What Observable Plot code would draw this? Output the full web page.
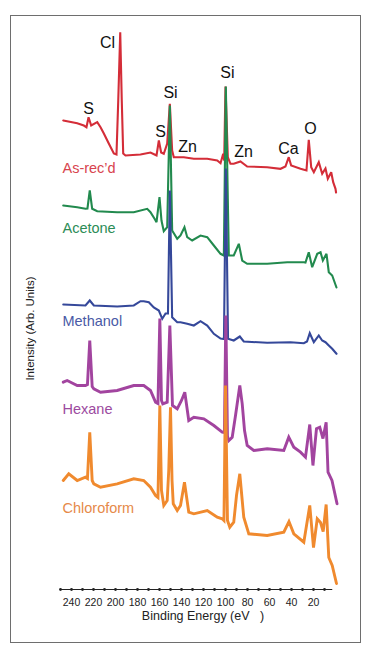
<!DOCTYPE html>
<html><head><meta charset="utf-8">
<script src="https://cdn.jsdelivr.net/npm/d3@7"></script>
<script src="https://cdn.jsdelivr.net/npm/@observablehq/plot@0.6"></script>
<style>
html,body{margin:0;padding:0;background:#fff;}
#wrap{position:relative;width:373px;height:656px;overflow:hidden;background:#fff;}
#frame{position:absolute;left:10px;top:15px;width:349px;height:626px;border:1.5px solid #6e6e6e;}
#chart{position:absolute;left:0;top:0;}
</style></head><body>
<div id="wrap"><div id="frame"></div><div id="chart"></div></div>
<script>
// [binding energy (eV), intensity (arb. units, offset spectra)]
const asRecd = [[247.5,469],[234.8,466.3],[228.8,464],[226.4,462.3],[224.5,472.3],[222.1,464],[216.6,467.3],[213.6,462.3],[210.6,456],[206.1,446],[201.5,436],[199.1,435],[197.5,489],[195.7,557.3],[194.3,489],[193,436],[190.9,434],[177.3,435],[168.2,437],[164.5,435],[162.7,434],[160.6,449],[158.5,437],[156.1,435.7],[153,446],[150.6,485.7],[148.5,439],[147,432.3],[137.9,432.3],[128.8,430.7],[116.6,430.7],[107.5,429],[104.5,426.3],[102.1,435.7],[101.2,429],[100,503],[97.9,432.3],[95.5,425.7],[92.5,425.7],[86.4,428],[80.3,423],[62.1,422.3],[50,420.7],[45.5,423],[42.5,432.3],[40.3,424],[31.8,420.7],[26.4,419],[24.3,449.7],[22.1,422.3],[19.7,417.3],[15.2,427.3],[12.1,415.7],[9.1,421],[7,410.7],[3.9,417.3],[2.1,407.3],[0,400.7],[-0.5,397]];
const acetone = [[247.5,384],[234.8,382.3],[227.3,380.7],[225.5,381],[223.4,399],[221.2,380.7],[216.6,378.3],[198.5,377.3],[183.4,377.3],[171.2,380.7],[168.2,377.3],[164.5,370.7],[162.7,367.3],[160,392.3],[158.2,369],[156.1,358.3],[153,362.3],[150.6,484],[148.5,359],[143.9,350.7],[140.9,354],[137.3,362.3],[134.8,352.3],[130.3,349],[122.7,354],[116.6,352.3],[110.6,344],[104.5,335.7],[101.5,334],[99.7,503],[97,334],[92.5,334],[87.9,345.7],[84.8,329],[80.3,325.7],[62.1,325.7],[43.9,327.3],[28.8,327.3],[27.3,327],[24.3,337.3],[21.2,322.3],[16.6,335.7],[13.6,337.3],[11.5,329],[9.1,334],[8.2,335.7],[6.1,317.3],[3,314],[-0.9,302]];
const methanol = [[247.5,285],[227.3,284],[223.4,289],[219.7,284],[198.5,283],[183.4,284],[177.3,288.3],[174.3,288.3],[169.7,287.3],[165.2,282],[160.6,279],[157.5,270.7],[154.5,276],[152.3,276],[150.6,399],[148.5,272.3],[143.9,267.3],[140.9,267.3],[134.8,265.7],[128.8,264],[122.7,268.3],[116.6,264],[110.6,255.7],[104.5,251],[101.4,250.5],[99.7,421],[97.7,250.7],[92.5,249],[87,253],[83.4,248],[62.1,246.7],[40.9,247.3],[28.8,246.3],[25.9,248],[23.4,256.3],[19.7,247.3],[15.2,254],[12.1,249],[9.1,247.3],[6.1,244],[3,240.7],[-0.9,235.7]];
const hexane = [[247.5,207.3],[243.9,209],[234.8,204],[227.3,204],[225.5,205],[223.4,249],[221.2,203],[219.7,200.7],[213.6,197.3],[198.5,199],[183.4,204],[174.3,204],[168.2,199],[163.6,187.3],[161.4,186],[159.7,271],[158.2,189],[157,185.7],[153,187.3],[150.6,264],[148.2,184],[143.9,180.7],[140,189],[137,197.3],[133.4,169],[128.8,172.3],[119.7,170.7],[110.6,164],[103,157.3],[101,157],[99.7,274],[98.2,153],[97,149],[93.9,152.3],[90.9,174],[87,204],[84.8,185.7],[82.7,159],[80.3,144],[74.3,139],[62.1,140.7],[47,139],[42.5,152.3],[37.9,142.3],[31.8,137.3],[27.3,132.3],[23.4,165],[20.5,124],[17.3,160.7],[14.3,162.3],[11.4,151],[8.5,167.3],[6.8,117.3],[3.2,109],[-1.4,85.7]];
const chloroform = [[247.5,109],[242.5,115.7],[234.8,109],[227.3,112.3],[225.5,111],[223.4,157.3],[221.2,109],[219.7,105.7],[213.6,102.3],[198.5,105.7],[183.4,110.7],[174.3,109],[168.2,102.3],[163.6,94],[161.4,92],[159.7,184],[158.2,99],[156.1,84],[153,89],[151.6,119],[150,182.3],[148.6,109],[147.5,85.7],[143.9,79],[140.9,84],[137.3,107.3],[133.4,77.3],[128.8,75.7],[116.6,79],[107.5,72.3],[103,70.7],[101.4,69],[100,204],[98.2,69],[96.1,62.3],[92.5,67.3],[90,94],[87,115.7],[84.8,89],[83.4,72.3],[78.8,55.7],[62.1,54],[47,57.3],[42.3,68],[37.9,55.7],[28.8,47.3],[23.4,84],[20,42],[16.6,70.7],[13.6,67],[11.2,58],[8.5,85],[6.1,32],[3,24],[-0.9,6]];

const sampleNames = ["As-rec\u2019d","Acetone","Methanol","Hexane","Chloroform"];
const sampleLineColors = ["#d42d38","#228a4e","#35489a","#a2449f","#f08a2e"];
const sampleTextColors = ["#d8444e","#2d8c57","#4a5aa6","#9c4aa0","#e68a4a"];
const sampleLabelEnergy = [248.2,248.2,248.2,248.2,248.2];
const sampleLabelLevel = [421,361,268,180,81];

const elementNames = ["Cl","S","Si","S","Zn","Si","Zn","Ca","O"];
const elementEnergy = [207.3,224.5,150,159,134.5,98.2,83.6,42.7,22.7];
const elementLevel = [547,481,497,458,443,517,438,441,461];

const tickEnergies = [250,240,230,220,210,200,190,180,170,160,150,140,130,120,110,100,90,80,70,60,50,40,30,20,10];
const tickLabels = [240,220,200,180,160,140,120,100,80,60,40,20];

const spectra = [asRecd, acetone, methanol, hexane, chloroform];
const widths = [2.1,2.1,2.1,2.9,2.9];
const toRows = arr => arr.map(([e, v]) => ({energy: e, intensity: v}));

const sampleLabels = sampleNames.map((n,i)=>({name:n, energy:sampleLabelEnergy[i], intensity:sampleLabelLevel[i], color:sampleTextColors[i]}));
const elementLabels = elementNames.map((n,i)=>({name:n, energy:elementEnergy[i], intensity:elementLevel[i]}));

const chart = Plot.plot({
  width: 373, height: 656,
  marginLeft: 60, marginRight: 38, marginTop: 0, marginBottom: 67,
  style: {fontFamily: "'Liberation Sans', Arial, Helvetica, sans-serif", background: "transparent", overflow: "visible"},
  x: {domain: [250, 0]},
  y: {domain: [0, 589], axis: null},
  marks: [
    Plot.ruleY([{y: 0, a: 250, b: 2.5}], {y: "y", x1: "a", x2: "b", stroke: "#222", strokeWidth: 1}),
    Plot.dot(tickEnergies, {x: d => d, y: () => 0, r: 1.4, fill: "#222", stroke: null}),
    Plot.axisX(tickLabels, {tickSize: 0, tickPadding: 9, fontSize: 10.5, fill: "#222", label: null}),
    ...spectra.map((s, i) => Plot.line(toRows(s), {x: "energy", y: "intensity", stroke: sampleLineColors[i], strokeWidth: widths[i], strokeLinejoin: "miter", strokeMiterlimit: 3})),
    Plot.text(sampleLabels, {x: "energy", y: "intensity", text: "name", fill: "color", textAnchor: "start", fontSize: 14.5}),
    Plot.text(elementLabels, {x: "energy", y: "intensity", text: "name", fill: "#111", fontSize: 16}),
    Plot.text(["Binding Energy (eV\u00a0\u00a0\u00a0)"], {frameAnchor: "bottom", dy: 30, dx: 5, fontSize: 12.5, fill: "#222"}),
    Plot.text(["Intensity (Arb. Units)"], {x: () => 277.3, y: () => 261, rotate: -90, fontSize: 11.5, fill: "#222"})
  ]
});
document.getElementById("chart").appendChild(chart);
</script>
</body></html>
